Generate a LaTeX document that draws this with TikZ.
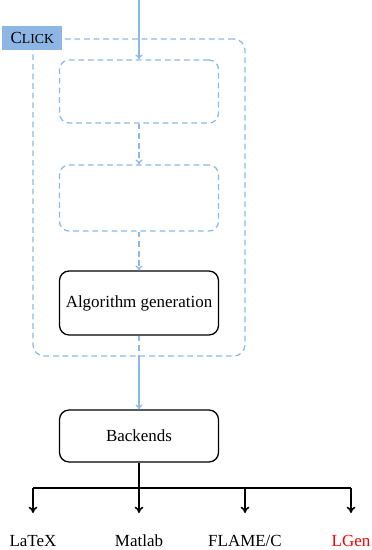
\documentclass[tikz,border=0pt]{standalone}
\usepackage{fontspec}
\setmainfont{Liberation Serif}
\usetikzlibrary{arrows.meta,fit,positioning}
\definecolor{clickblue}{RGB}{141,182,228}
\definecolor{flowblue}{RGB}{140,184,232}
\begin{document}
\begin{tikzpicture}[x=0.625pt,y=-0.625pt,
  font=\fontsize{10.6pt}{12.5pt}\selectfont,
  longdash/.style={dash pattern=on 3.6pt off 2.4pt},
  blueline/.style={draw=flowblue,line width=0.8pt},
  bluearrow/.style={blueline,-{To[length=3pt,width=4.5pt]}},
  ghostbox/.style={draw=flowblue,longdash,line width=0.8pt,rounded corners=6pt,
    minimum width=99.4pt,inner sep=0pt},
  stagebox/.style={draw=black,line width=0.8pt,rounded corners=6pt,
    minimum width=99.4pt,inner sep=0pt,align=center},
  busline/.style={draw=black,line width=1pt},
  busarrow/.style={busline,-{To[length=4pt,width=5.5pt]}},
  target/.style={inner sep=0pt,anchor=base}]
  \useasboundingbox (0,0) rectangle (372,550);

  % incoming flow
  \coordinate (in) at (139,0);

  % outer group frame
  \coordinate (gtl) at (33,39);
  \coordinate (gbr) at (245,356);
  \node[draw=flowblue,longdash,line width=0.8pt,rounded corners=7pt,inner sep=0pt,
        fit=(gtl)(gbr)] (group) {};
  \node[fill=clickblue,minimum width=37.5pt,minimum height=15pt,inner sep=0pt]
        (click) at (group.north west) {C{\fontsize{8.6pt}{10pt}\selectfont LICK}};

  % stages
  \node[ghostbox,minimum height=39.4pt] (s1) at (139,91.5) {};
  \node[ghostbox,minimum height=41.3pt] (s2) at (139,198) {};
  \node[stagebox,minimum height=40pt] (alg) at (139,303) {Algorithm generation};
  \node[stagebox,minimum height=32.5pt] (back) at (139,436) {Backends};

  \draw[bluearrow] (in) -- (s1.north);
  \draw[bluearrow,longdash] (s1.south) -- (s2.north);
  \draw[bluearrow,longdash] (s2.south) -- (alg.north);
  \draw[blueline,longdash] (alg.south) -- (group.south);
  \draw[bluearrow] (group.south) -- (back.north);

  % backend fan-out
  \coordinate (split) at (139,488);
  \coordinate (busw) at (33,488);
  \coordinate (buse) at (351,488);
  \coordinate (t1) at (33,513);
  \coordinate (t2) at (139,513);
  \coordinate (t3) at (245,513);
  \coordinate (t4) at (351,513);
  \draw[busline] (back.south) -- (split);
  \draw[busline] (busw) -- (buse);
  \draw[busarrow] (busw) -- (t1);
  \draw[busarrow] (split) -- (t2);
  \draw[busarrow] (split -| t3) -- (t3);
  \draw[busarrow] (buse) -- (t4);

  \node[target] (latex) at (33,546) {LaTeX};
  \node[target] (matlab) at (139,546) {Matlab};
  \node[target] (flame) at (245,546) {FLAME/C};
  \node[target,text=red] (lgen) at (351,546) {LGen};
\end{tikzpicture}
\end{document}
